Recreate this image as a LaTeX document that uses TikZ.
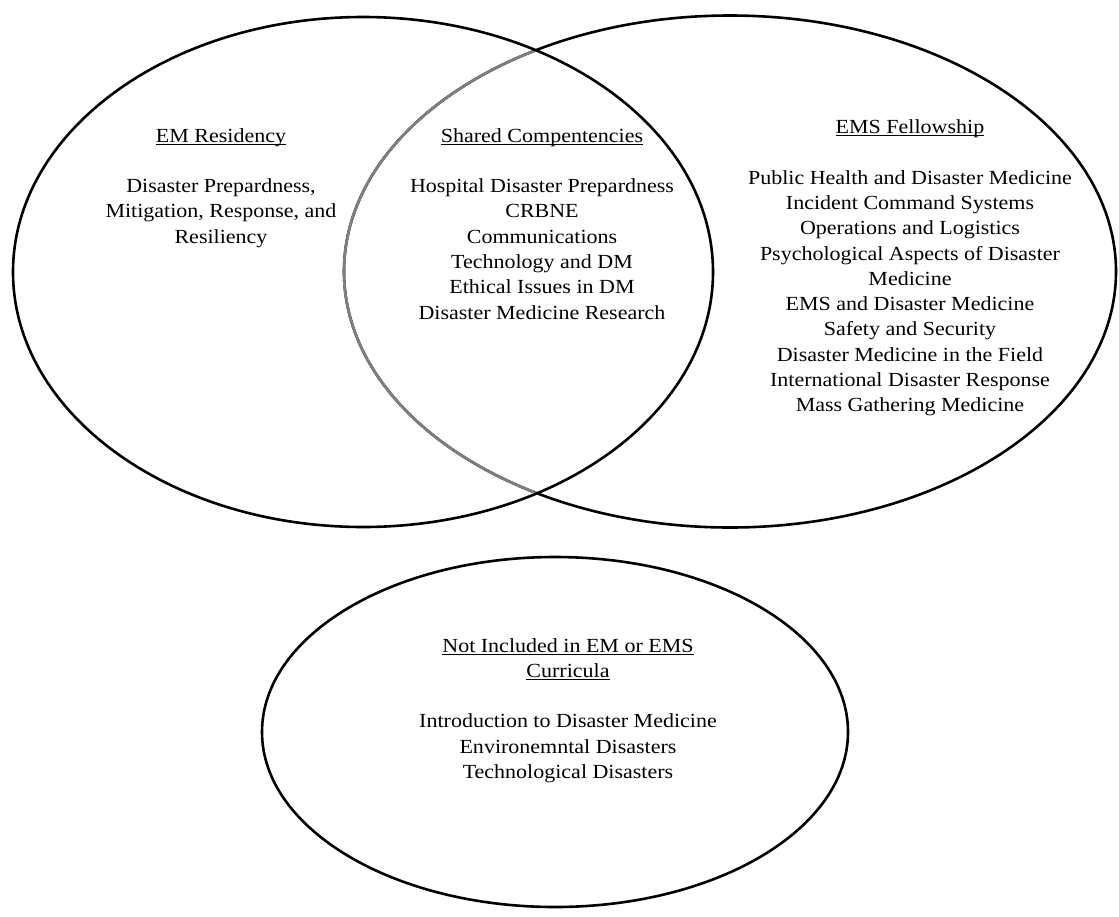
\documentclass[tikz,border=0pt]{standalone}
\usepackage{fontspec}
\setmainfont{Liberation Serif}[FakeStretch=1.1]
\newcommand\myul[1]{\setbox0\hbox{#1}\rlap{\rule[-2.8pt]{\wd0}{1.1pt}}\box0}
\tikzset{
  ring/.style={draw=black, line width=2.6pt},
  ringgray/.style={draw=black!50, line width=2.6pt},
  block/.style={anchor=base, inner sep=0pt, font=\fontsize{20}{25.3}\selectfont}
}
\begin{document}
\begin{tikzpicture}[x=1pt,y=-1pt]
\useasboundingbox (0,0) rectangle (1119,916);
% right ellipse (EMS Fellowship)
\path[ring] (730,271.5) ellipse [x radius=386pt, y radius=256pt];
% part of the right ellipse inside the left one, in gray
\begin{scope}
  \clip (363,272) ellipse [x radius=350pt, y radius=255pt];
  \path[ringgray] (730,271.5) ellipse [x radius=386pt, y radius=256pt];
\end{scope}
% left ellipse (EM Residency)
\path[ring] (363,272) ellipse [x radius=350pt, y radius=255pt];
% bottom ellipse
\path[ring] (555,732) ellipse [x radius=293pt, y radius=175pt];

\node[block] (emres) at (221,142) {\begin{tabular}[t]{@{}c@{}}
\myul{EM Residency}\\ \\
Disaster Prepardness,\\
Mitigation, Response, and\\
Resiliency
\end{tabular}};

\node[block] (shared) at (542,142) {\begin{tabular}[t]{@{}c@{}}
\myul{Shared Compentencies}\\ \\
Hospital Disaster Prepardness\\
CRBNE\\
Communications\\
Technology and DM\\
Ethical Issues in DM\\
Disaster Medicine Research
\end{tabular}};

\node[block] (ems) at (910,133.5) {\begin{tabular}[t]{@{}c@{}}
\myul{EMS Fellowship}\\ \\
Public Health and Disaster Medicine\\
Incident Command Systems\\
Operations and Logistics\\
Psychological Aspects of Disaster\\
Medicine\\
EMS and Disaster Medicine\\
Safety and Security\\
Disaster Medicine in the Field\\
International Disaster Response\\
Mass Gathering Medicine
\end{tabular}};

\node[block] (notinc) at (568,652) {\begin{tabular}[t]{@{}c@{}}
\myul{Not Included in EM or EMS}\\
\myul{Curricula}\\ \\
Introduction to Disaster Medicine\\
Environemntal Disasters\\
Technological Disasters
\end{tabular}};
\end{tikzpicture}
\end{document}
